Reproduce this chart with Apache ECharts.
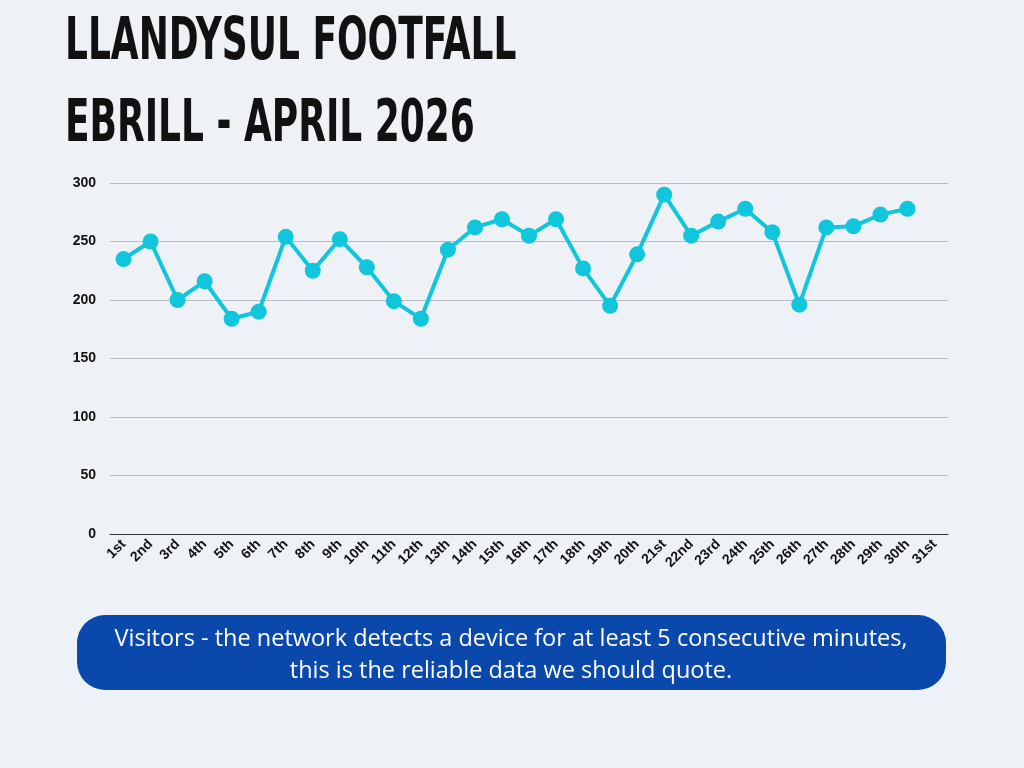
<!DOCTYPE html>
<html><head><meta charset="utf-8">
<script src="https://cdn.jsdelivr.net/npm/echarts@6/dist/echarts.min.js"></script>
<style>html,body{margin:0;background:#eef1f6}#c{width:1024px;height:768px}</style>
</head><body><div id="c"></div>
<script>
const categories = ["1st","2nd","3rd","4th","5th","6th","7th","8th","9th","10th","11th","12th","13th","14th","15th","16th","17th","18th","19th","20th","21st","22nd","23rd","24th","25th","26th","27th","28th","29th","30th","31st"];
const visitors = [235,250,200,216,184,190,254,225,252,228,199,184,243,262,269,255,269,227,195,239,290,255,267,278,258,196,262,263,273,278,null];
const yTicks = [0,50,100,150,200,250,300];
const chart = echarts.init(document.getElementById('c'));
chart.setOption({
  backgroundColor:'#eef1f6',
  grid:{left:110,right:76,top:183,bottom:234},
  xAxis:{type:'category',data:categories,boundaryGap:true,
    axisLine:{lineStyle:{color:'#333'}},axisTick:{show:false},
    axisLabel:{rotate:45,color:'#111',fontWeight:'bold',fontSize:14,fontFamily:'Liberation Sans',interval:0,margin:8}},
  yAxis:{type:'value',min:0,max:300,interval:50,
    axisLabel:{color:'#111',fontWeight:'bold',fontSize:14,fontFamily:'Liberation Sans',margin:14},
    splitLine:{lineStyle:{color:'#b8bcc4'}}},
  series:[{type:'line',data:visitors,symbol:'circle',symbolSize:16,
    lineStyle:{color:'#10c6dc',width:4},itemStyle:{color:'#10c6dc'},connectNulls:false}],
  graphic:[
    {type:'text',x:65,y:14,scaleX:0.8,scaleY:1.18,style:{text:'LLANDYSUL FOOTFALL',font:'bold 50px "DejaVu Sans Condensed"',fill:'#111',letterSpacing:5}},
    {type:'text',x:65,y:96,scaleX:0.8,scaleY:1.18,style:{text:'EBRILL - APRIL 2026',font:'bold 50px "DejaVu Sans Condensed"',fill:'#111',letterSpacing:5}},
    {type:'rect',shape:{x:77,y:615,width:869,height:75,r:28},style:{fill:'#0a49ab'}},
    {type:'text',x:511,y:655,style:{text:'Visitors - the network detects a device for at least 5 consecutive minutes,\nthis is the reliable data we should quote.',font:'23.5px "Open Sans"',fill:'#fff',align:'center',verticalAlign:'middle',lineHeight:32}}
  ]
});
</script></body></html>
